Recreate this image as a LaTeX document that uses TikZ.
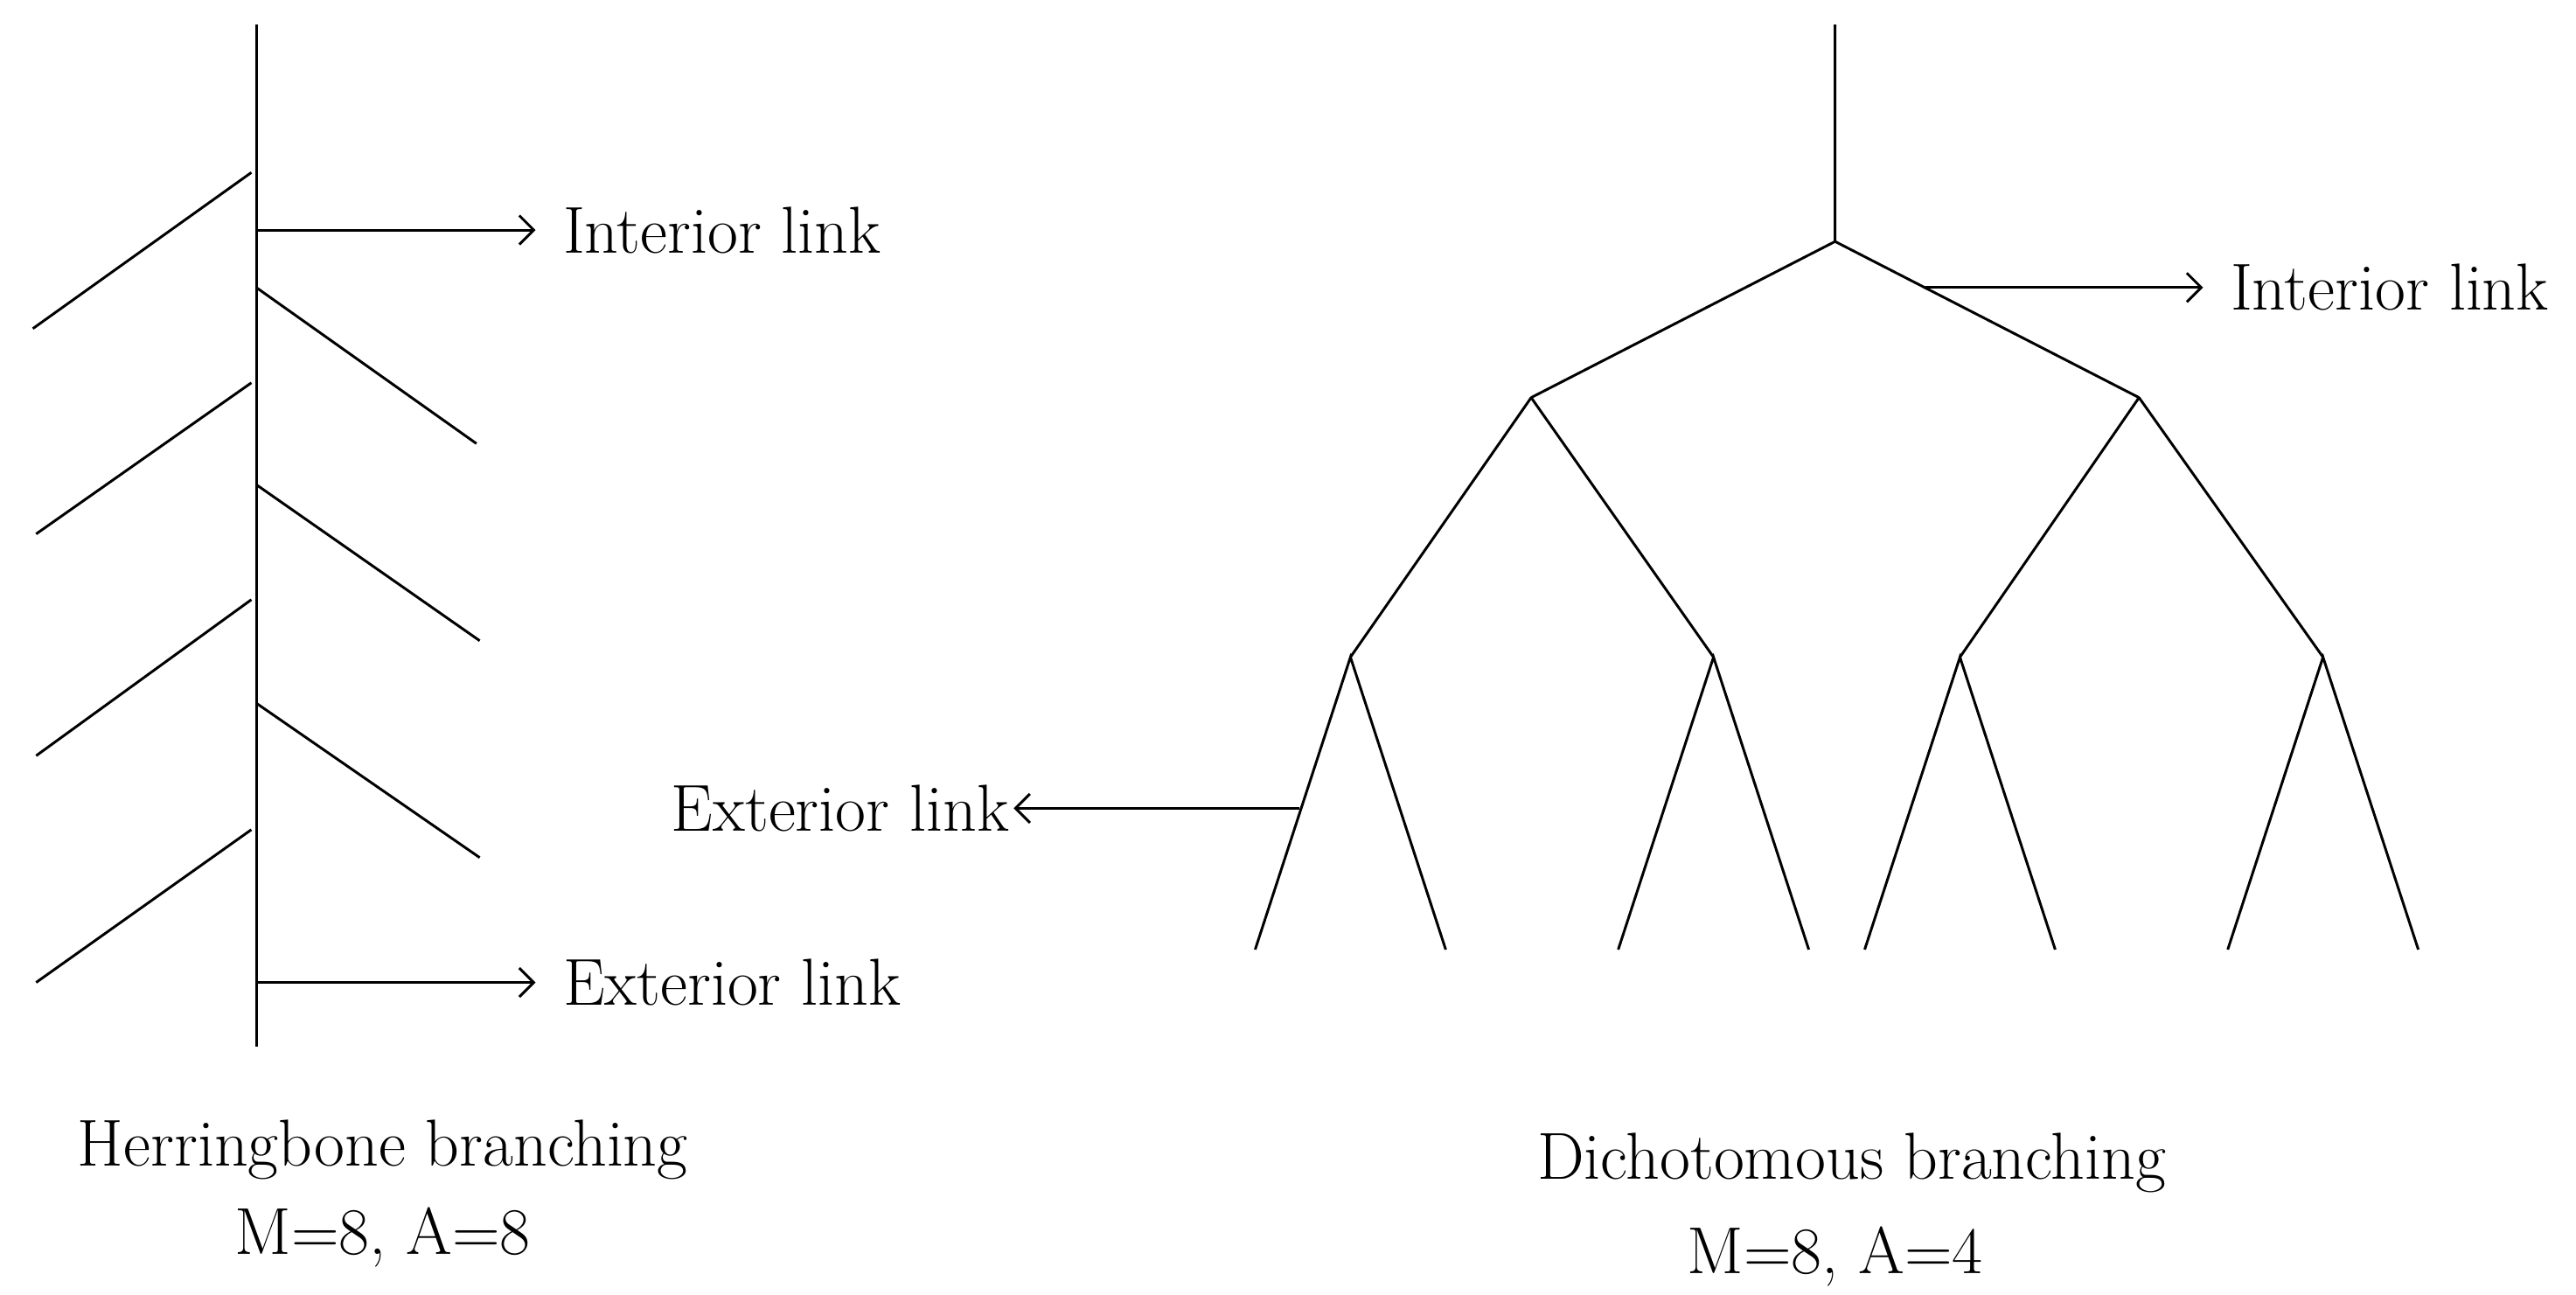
\documentclass[tikz,border=0pt]{standalone}
\usetikzlibrary{arrows.meta}
\begin{document}
\begin{tikzpicture}[x=0.02cm,y=-0.02cm,line width=0.9pt,
  lbl/.style={font=\fontsize{23}{27}\selectfont,inner sep=0pt},
  arr/.style={-{Straight Barb[length=5pt,width=10pt]}}]
\useasboundingbox (0,0) rectangle (1568,788);
% herringbone
\coordinate (ht) at (156,15); \coordinate (hb) at (156,637);
\draw (ht) -- (hb);
\foreach \a/\b/\c/\d [count=\i] in {153/105/20/200,153/233/22/325,153/365/22/460,153/505/22/598,156/175/290/270,156/295/292/390,156/428/292/522}{
  \coordinate (hs\i) at (\a,\b); \coordinate (he\i) at (\c,\d); \draw (hs\i) -- (he\i);}
\coordinate (hi) at (156,140); \coordinate (hie) at (326,140);
\coordinate (hx) at (156,598); \coordinate (hxe) at (326,598);
\draw[arr] (hi) -- (hie); \draw[arr] (hx) -- (hxe);
\node[lbl,anchor=west] (hil) at (342,140) {Interior link};
\node[lbl,anchor=west] (hxl) at (342,598) {Exterior link};
\node[lbl] (ht1) at (233,700) {Herringbone branching};
\node[lbl] (ht2) at (233,753) {M=8, A=8};
% dichotomous
\coordinate (d0) at (1117,15); \coordinate (d1) at (1117,147);
\coordinate (l1) at (932,242); \coordinate (r1) at (1302,242);
\coordinate (a) at (822,400); \coordinate (b) at (1043,400);
\coordinate (c) at (1193,400); \coordinate (d) at (1414,400);
\draw (d0) -- (d1) (d1) -- (l1) (d1) -- (r1)
  (l1) -- (a) (l1) -- (b) (r1) -- (c) (r1) -- (d);
\foreach \p/\x in {a/822,b/1043,c/1193,d/1414}{
  \coordinate (\p L) at (\x-58,578); \coordinate (\p R) at (\x+58,578);
  \draw (\p L) -- (\p) -- (\p R);}
\coordinate (di) at (1172,175); \coordinate (die) at (1341,175);
\draw[arr] (di) -- (die);
\node[lbl,anchor=west] (dil) at (1357,175) {Interior link};
\coordinate (dx) at (791,492); \coordinate (dxe) at (617,492);
\draw[arr] (dx) -- (dxe);
\node[lbl,anchor=east] (dxl) at (615,492) {Exterior link};
\node[lbl] (dt1) at (1127,708) {Dichotomous branching};
\node[lbl] (dt2) at (1117,765) {M=8, A=4};
\end{tikzpicture}
\end{document}
